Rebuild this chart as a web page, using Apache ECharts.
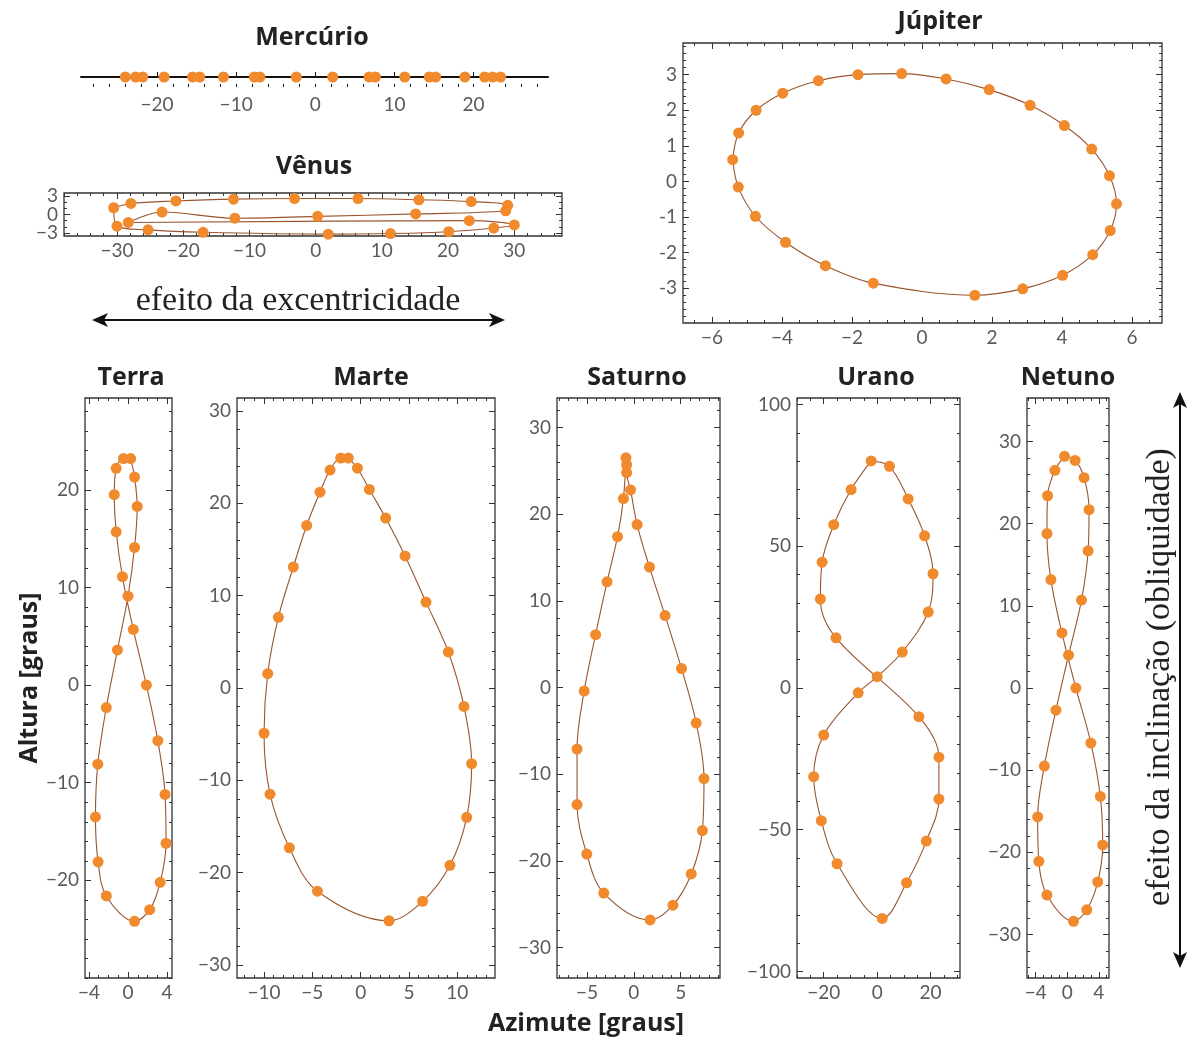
<!DOCTYPE html>
<html><head><meta charset="utf-8">
<script src="https://cdn.jsdelivr.net/npm/echarts@6/dist/echarts.min.js"></script>
<style>html,body{margin:0;padding:0;background:#fff}#c{width:1192px;height:1044px}</style>
</head><body><div id="c"></div>
<script>
// ---------------- data (azimute x, altura y), in path order ----------------
const merc_x = [-24.0,-22.7,-21.8,-19.1,-15.5,-14.6,-11.6,-7.7,-7.0,-2.4,2.2,6.8,7.6,11.3,14.4,15.2,18.9,21.4,22.4,23.4];
const merc_y = [0,0,0,0,0,0,0,0,0,0,0,0,0,0,0,0,0,0,0,0];

const venus_x = [-30.5,-27.9,-21.1,-12.4,-3.2,6.4,15.6,23.5,29.0,28.7,15.1,0.3,-12.2,-23.2,-28.3,23.2,30.0,26.9,20.1,11.3,1.9,-17.0,-25.3,-30.0];
const venus_y = [1.1,1.8,2.2,2.5,2.6,2.6,2.4,2.1,1.5,0.6,0.1,-0.3,-0.6,0.4,-1.3,-1.0,-1.7,-2.2,-2.8,-3.1,-3.2,-2.9,-2.5,-1.9];

const jup_x = [-5.41,-5.24,-4.74,-3.98,-2.96,-1.83,-0.58,0.69,1.92,3.09,4.07,4.85,5.36,5.56,5.38,4.88,4.02,2.88,1.51,-1.39,-2.76,-3.9,-4.76,-5.25];
const jup_y = [0.61,1.36,2.0,2.48,2.83,3.0,3.03,2.88,2.58,2.14,1.57,0.91,0.16,-0.63,-1.38,-2.06,-2.64,-3.02,-3.2,-2.86,-2.37,-1.71,-0.98,-0.16];

const terra_x = [0.27,0.67,0.94,0.67,0.0,-1.08,-2.22,-3.09,-3.33,-3.06,-2.22,0.67,2.22,3.29,3.89,3.79,3.05,1.88,0.54,-0.57,-1.21,-1.41,-1.21,-0.47];
const terra_y = [23.2,21.3,18.3,14.1,9.1,3.6,-2.3,-8.1,-13.5,-18.1,-21.6,-24.2,-23.0,-20.2,-16.2,-11.2,-5.7,0.0,5.7,11.1,15.7,19.5,22.2,23.2];

const marte_x = [-1.28,-0.34,0.90,2.59,4.59,6.76,9.07,10.69,11.48,10.97,9.24,6.41,2.93,-4.48,-7.38,-9.38,-10.0,-9.62,-8.52,-6.97,-5.59,-4.21,-3.17,-2.07];
const marte_y = [24.9,23.8,21.5,18.4,14.3,9.3,3.9,-2.0,-8.2,-14.0,-19.2,-23.1,-25.2,-22.0,-17.3,-11.5,-4.9,1.55,7.65,13.1,17.6,21.2,23.6,24.9];

const saturno_x = [-0.84,-0.77,-0.77,-0.35,0.35,1.67,3.34,5.09,6.66,7.49,7.32,6.13,4.18,1.74,-3.21,-5.02,-6.06,-6.06,-5.30,-4.08,-2.86,-1.74,-1.11];
const saturno_y = [26.5,25.7,24.8,22.8,18.8,13.9,8.3,2.2,-4.1,-10.5,-16.5,-21.5,-25.1,-26.8,-23.7,-19.2,-13.5,-7.1,-0.4,6.1,12.2,17.4,21.8];

const urano_x = [-2.25,4.6,11.6,17.75,20.9,19.1,9.4,0.0,-7.1,-20.0,-23.75,-20.9,-15.0,1.9,11.0,18.4,23.1,23.1,15.6,-15.4,-21.25,-20.6,-16.25,-9.75];
const urano_y = [80.1,78.2,66.7,53.7,40.3,26.8,12.7,4.0,-1.7,-16.6,-31.3,-46.8,-62.0,-81.3,-68.7,-54.0,-39.2,-24.4,-10.1,17.7,31.4,44.4,57.6,70.0];

const netuno_x = [-0.34,1.0,2.14,2.77,2.65,1.81,0.17,-1.43,-2.9,-3.75,-3.6,-2.57,0.80,2.48,3.87,4.5,4.2,3.0,1.10,-0.67,-2.07,-2.57,-2.49,-1.56];
const netuno_y = [28.2,27.7,25.6,21.7,16.7,10.7,4.0,-2.7,-9.5,-15.7,-21.1,-25.2,-28.4,-27.0,-23.6,-19.1,-13.2,-6.7,0.0,6.7,13.2,18.8,23.4,26.5];

// ---------------- tick labels ----------------
const merc_xticks = [-20,-10,0,10,20];
const venus_xticks = [-30,-20,-10,0,10,20,30];
const venus_yticks = [-3,0,3];
const jup_xticks = [-6,-4,-2,0,2,4,6];
const jup_yticks = [-3,-2,-1,0,1,2,3];
const terra_xticks = [-4,0,4];
const terra_yticks = [-20,-10,0,10,20];
const marte_xticks = [-10,-5,0,5,10];
const marte_yticks = [-30,-20,-10,0,10,20,30];
const saturno_xticks = [-5,0,5];
const saturno_yticks = [-30,-20,-10,0,10,20,30];
const urano_xticks = [-20,0,20];
const urano_yticks = [-100,-50,0,50,100];
const netuno_xticks = [-4,0,4];
const netuno_yticks = [-30,-20,-10,0,10,20,30];

// ---------------- layout ----------------
const ORANGE = '#F08A2C', LINE = '#9a5530', FRAME = '#333';
const minusFmt = v => v < 0 ? '\u2212' + Math.abs(v) : String(v);
const hyphenFmt = v => v < 0 ? '-' + Math.abs(v) : String(v);

const panels = [
  {title:'Mercúrio', tx:312, ty:38, box:{left:81, top:67, width:467, height:20}, xr:[-29.6,29.4], yr:[-1,1],
   xt:merc_xticks, yt:[], xm:2, ym:null, x:merc_x, y:merc_y, axisOnly:true, closed:false, line:false},
  {title:'Vênus', tx:314, ty:167, box:{left:64, top:193, width:498, height:43}, xr:[-38,37.2], yr:[-3.5,3.5],
   xt:venus_xticks, yt:venus_yticks, xm:2, ym:1, x:venus_x, y:venus_y, closed:true, line:true, splitY:true},
  {title:'Júpiter', tx:940, ty:22, box:{left:683, top:43, width:479, height:280}, xr:[-6.83,6.86], yr:[-3.98,3.89],
   xt:jup_xticks, yt:jup_yticks, xm:0.5, ym:0.2, x:jup_x, y:jup_y, closed:true, line:true, yfmt:hyphenFmt},
  {title:'Terra', tx:131, ty:378, box:{left:85, top:398, width:87, height:580}, xr:[-4.4,4.5], yr:[-30,29.4],
   xt:terra_xticks, yt:terra_yticks, xm:1, ym:2, x:terra_x, y:terra_y, closed:true, line:true},
  {title:'Marte', tx:371, ty:378, box:{left:237, top:398, width:258, height:580}, xr:[-12.8,13.9], yr:[-31.4,31.4],
   xt:marte_xticks, yt:marte_yticks, xm:1, ym:2, x:marte_x, y:marte_y, closed:true, line:true},
  {title:'Saturno', tx:637, ty:378, box:{left:557, top:398, width:163, height:580}, xr:[-8.2,9.2], yr:[-33.5,33.4],
   xt:saturno_xticks, yt:saturno_yticks, xm:1, ym:2, x:saturno_x, y:saturno_y, closed:true, line:true},
  {title:'Urano', tx:876, ty:378, box:{left:797, top:398, width:163, height:580}, xr:[-30,31], yr:[-102.3,102.3],
   xt:urano_xticks, yt:urano_yticks, xm:5, ym:10, x:urano_x, y:urano_y, closed:true, line:true},
  {title:'Netuno', tx:1068, ty:378, box:{left:1027, top:398, width:82, height:580}, xr:[-5.1,5.3], yr:[-35.3,35.3],
   xt:netuno_xticks, yt:netuno_yticks, xm:1, ym:2, x:netuno_x, y:netuno_y, closed:true, line:true}
];

function minorVals(r, step){
  const out = [];
  for (let v = Math.ceil(r[0]/step)*step; v <= r[1] + 1e-9; v += step) out.push(+v.toFixed(6));
  return out;
}
const labelStyle = {color:'#5a5a5a', fontSize:19, fontFamily:'Lato, "Open Sans", sans-serif'};
const BOLD = '"Open Sans", Lato, sans-serif';

function mkAxis(gi, pos, r, ticks, len, withLabels, fmt, opts){
  opts = opts || {};
  return {
    gridIndex: gi, type:'value', position: pos, min: r[0], max: r[1],
    axisLine: opts.axisLine || {show:false, onZero:false},
    axisTick: {show: len > 0, inside: true, length: Math.max(len, 1), customValues: ticks,
               lineStyle:{color: opts.tickColor || FRAME, width:1}},
    axisLabel: withLabels ? Object.assign({show:true, customValues: ticks, formatter: fmt, margin: opts.margin || 5,
                              showMinLabel:true, showMaxLabel:true, hideOverlap:false}, labelStyle)
                          : {show:false},
    splitLine:{show:false}, minorTick:{show:false}, minorSplitLine:{show:false}
  };
}

const grids = [], xAxes = [], yAxes = [], series = [], graphics = [];

panels.forEach((p, gi) => {
  grids.push(Object.assign({show: !p.axisOnly, borderColor: FRAME, borderWidth: 1.3, containLabel:false}, p.box));
  const xIdx = xAxes.length, yIdx = yAxes.length;
  if (p.axisOnly) {
    const al = {show:true, onZero:true, lineStyle:{color:'#111', width:2}};
    xAxes.push(mkAxis(gi, 'bottom', p.xr, p.xt, 5, true, minusFmt, {axisLine: al, margin: 8, tickColor:'#111'}));
    xAxes.push(mkAxis(gi, 'bottom', p.xr, minorVals(p.xr, p.xm), 3, false, null, {axisLine:{show:false, onZero:true}, tickColor:'#111'}));
    yAxes.push({gridIndex: gi, type:'value', min:p.yr[0], max:p.yr[1], show:false});
  } else {
    xAxes.push(mkAxis(gi, 'bottom', p.xr, p.xt, 6, true, minusFmt, {margin: 5}));
    xAxes.push(mkAxis(gi, 'top', p.xr, p.xt, 6, false));
    xAxes.push(mkAxis(gi, 'bottom', p.xr, minorVals(p.xr, p.xm), 3, false));
    xAxes.push(mkAxis(gi, 'top', p.xr, minorVals(p.xr, p.xm), 3, false));
    if (p.splitY) {
      // one axis per label so that the closely spaced labels are all kept
      p.yt.forEach((t, k) => yAxes.push(mkAxis(gi, 'left', p.yr, [t], 6, true, p.yfmt || minusFmt, {margin: 6})));
    } else {
      yAxes.push(mkAxis(gi, 'left', p.yr, p.yt, 6, true, p.yfmt || minusFmt, {margin: 6}));
    }
    yAxes.push(mkAxis(gi, 'right', p.yr, p.yt, 6, false));
    yAxes.push(mkAxis(gi, 'left', p.yr, minorVals(p.yr, p.ym), 3, false));
    yAxes.push(mkAxis(gi, 'right', p.yr, minorVals(p.yr, p.ym), 3, false));
  }
  const pts = p.x.map((v, i) => [v, p.y[i]]);
  if (p.line) {
    const path = p.closed ? pts.concat([pts[0]]) : pts;
    series.push({type:'line', xAxisIndex:xIdx, yAxisIndex:yIdx, data:path, smooth:0.35, showSymbol:false,
                 lineStyle:{color:LINE, width:1.1}, silent:true, z:2, clip:false});
  }
  series.push({type:'scatter', xAxisIndex:xIdx, yAxisIndex:yIdx, data:pts, symbol:'circle', symbolSize:11,
               itemStyle:{color:ORANGE, opacity:1}, silent:true, z:3, clip:false});
  graphics.push({type:'text', x:p.tx, y:p.ty, style:{text:p.title, font:'bold 25px ' + BOLD,
                 fill:'#222', align:'center', verticalAlign:'middle', textAlign:'center', textVerticalAlign:'middle'}});
});

// axis titles
graphics.push({type:'text', x:30, y:678, rotation:Math.PI/2, style:{text:'Altura [graus]', font:'bold 25px ' + BOLD,
  fill:'#222', align:'center', verticalAlign:'middle', textAlign:'center', textVerticalAlign:'middle'}});
graphics.push({type:'text', x:586, y:1024, style:{text:'Azimute [graus]', font:'bold 25px ' + BOLD,
  fill:'#222', align:'center', verticalAlign:'middle', textAlign:'center', textVerticalAlign:'middle'}});
// annotations
graphics.push({type:'text', x:298, y:301, style:{text:'efeito da excentricidade', font:'34px "Liberation Serif", "DejaVu Serif", serif',
  fill:'#222', align:'center', verticalAlign:'middle', textAlign:'center', textVerticalAlign:'middle'}});
graphics.push({type:'text', x:1160, y:677, rotation:Math.PI/2, style:{text:'efeito da inclinação (obliquidade)', font:'34px "Liberation Serif", "DejaVu Serif", serif',
  fill:'#222', align:'center', verticalAlign:'middle', textAlign:'center', textVerticalAlign:'middle'}});
// arrows
const AR = '#111';
graphics.push({type:'line', shape:{x1:100, y1:320, x2:497, y2:320}, style:{stroke:AR, lineWidth:2}});
graphics.push({type:'polygon', shape:{points:[[92,320],[108,313],[104,320],[108,327]]}, style:{fill:AR}});
graphics.push({type:'polygon', shape:{points:[[505,320],[489,313],[493,320],[489,327]]}, style:{fill:AR}});
graphics.push({type:'line', shape:{x1:1180, y1:400, x2:1180, y2:960}, style:{stroke:AR, lineWidth:2}});
graphics.push({type:'polygon', shape:{points:[[1180,392],[1173,408],[1180,404],[1187,408]]}, style:{fill:AR}});
graphics.push({type:'polygon', shape:{points:[[1180,968],[1173,952],[1180,956],[1187,952]]}, style:{fill:AR}});

const chart = echarts.init(document.getElementById('c'), null, {renderer:'canvas'});
chart.setOption({
  backgroundColor:'#fff', animation:false,
  grid: grids, xAxis: xAxes, yAxis: yAxes, series: series, graphic: graphics
});
</script></body></html>
